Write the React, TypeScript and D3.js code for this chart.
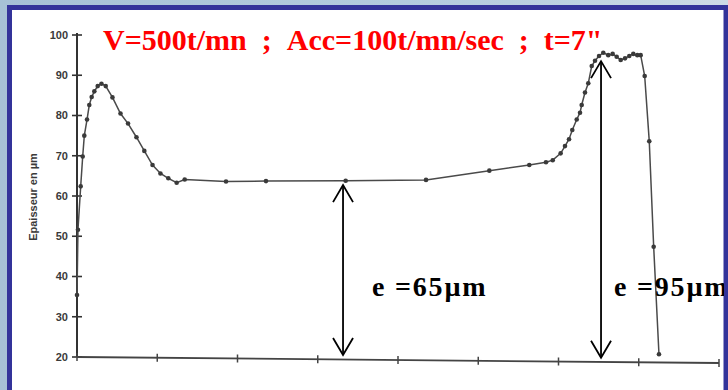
import React, { useEffect, useRef } from 'react';
import * as d3 from 'd3';

const W = 728;
const H = 390;

const TITLE = 'V=500t/mn\u00a0\u00a0;\u00a0\u00a0Acc=100t/mn/sec\u00a0\u00a0;\u00a0\u00a0t=7"';
const Y_LABEL = 'Epaisseur en µm';
const Y_TICKS = [20, 30, 40, 50, 60, 70, 80, 90, 100];
const X_TICKS = [0, 1, 2, 3, 4, 5, 6, 7, 8];

// position along the sheet (arbitrary units, 0..8) and measured thickness (µm)
const POS = [
  0.0, 0.012, 0.046, 0.071, 0.091, 0.125, 0.153, 0.183, 0.216, 0.258, 0.305, 0.358,
  0.442, 0.542, 0.636, 0.741, 0.839, 0.941, 1.04, 1.138, 1.242, 1.342, 1.857, 2.355,
  3.348, 4.349, 5.138, 5.636, 5.844, 5.928, 6.027, 6.081, 6.131, 6.172, 6.227, 6.268,
  6.289, 6.33, 6.371, 6.414, 6.455, 6.505, 6.558, 6.62, 6.675, 6.725, 6.775, 6.829,
  6.882, 6.932, 6.982, 7.024, 7.074, 7.131, 7.186, 7.252,
];
const THICK = [
  35.4, 51.6, 62.4, 69.8, 75.0, 79.0, 82.6, 84.6, 86.0, 87.3, 87.9, 87.3,
  84.5, 80.5, 78.0, 74.6, 71.2, 67.7, 65.6, 64.4, 63.3, 64.1, 63.6, 63.7,
  63.8, 64.0, 66.3, 67.7, 68.4, 68.9, 70.6, 72.4, 74.1, 76.4, 79.0, 80.7,
  82.6, 85.7, 88.0, 92.3, 93.6, 94.8, 95.6, 95.0, 95.3, 94.6, 93.8, 94.2,
  94.8, 95.3, 95.0, 95.0, 89.8, 73.6, 47.4, 20.7,
];

const ARROW_X = [3.315, 6.53];
const ARROW_TOP = [62.7, 93.5];
const ARROW_BOTTOM = [20.5, 19.8];
const ARROW_LABELS = ['e =65µm', 'e =95µm'];

export default function App() {
  const ref = useRef<SVGSVGElement | null>(null);

  useEffect(() => {
    const svg = d3.select(ref.current);
    svg.selectAll('*').remove();

    const x = d3.scaleLinear().domain([0, 8]).range([77, 719]);
    const y = d3.scaleLinear().domain([20, 100]).range([357, 35]);

    // background
    const defs = svg.append('defs');
    const grad = defs.append('linearGradient').attr('id', 'bg').attr('x1', 0).attr('x2', 1).attr('y1', 0).attr('y2', 0);
    grad.append('stop').attr('offset', 0).attr('stop-color', '#a6c1d6');
    grad.append('stop').attr('offset', 0.7).attr('stop-color', '#b8cfe0');
    grad.append('stop').attr('offset', 1).attr('stop-color', '#cddbe6');
    svg.append('rect').attr('width', W).attr('height', H).attr('fill', 'url(#bg)');
    svg.append('rect').attr('x', 9.5).attr('y', 7.5).attr('width', 716.5).attr('height', 400)
      .attr('fill', '#ffffff').attr('stroke', '#33339a').attr('stroke-width', 5);

    // y axis
    const gy = svg.append('g');
    gy.append('line').attr('x1', x(0)).attr('x2', x(0)).attr('y1', y(100) - 2).attr('y2', y(20))
      .attr('stroke', '#333').attr('stroke-width', 2);
    gy.selectAll('line.t').data(Y_TICKS).join('line').attr('class', 't')
      .attr('x1', x(0) - 5).attr('x2', x(0) + 5).attr('y1', (d) => y(d)).attr('y2', (d) => y(d))
      .attr('stroke', '#333').attr('stroke-width', 1.6);
    gy.selectAll('text').data(Y_TICKS).join('text')
      .attr('x', 68).attr('y', (d) => y(d)).attr('dy', '0.36em')
      .attr('text-anchor', 'end').attr('font-family', '"Liberation Sans", Arial, sans-serif')
      .attr('font-weight', 'bold').attr('font-size', 11).attr('fill', '#3a3a3a').text((d) => d);

    svg.append('text').attr('transform', `translate(37,197) rotate(-90)`)
      .attr('text-anchor', 'middle').attr('font-family', '"Liberation Sans", Arial, sans-serif')
      .attr('font-weight', 'bold').attr('font-size', 11).attr('fill', '#3a3a3a').text(Y_LABEL);

    // x axis (scan is slightly tilted)
    const skew = (Math.atan(6 / 642) * 180) / Math.PI;
    const gx = svg.append('g').attr('transform', `translate(${x(0)},${y(20)}) skewY(${skew}) translate(${-x(0)},0)`);
    gx.append('line').attr('x1', x(0)).attr('x2', x(8)).attr('y1', 0).attr('y2', 0)
      .attr('stroke', '#444').attr('stroke-width', 1.8);
    gx.selectAll('line.t').data(X_TICKS).join('line').attr('class', 't')
      .attr('x1', (d) => x(d)).attr('x2', (d) => x(d)).attr('y1', -4).attr('y2', 4)
      .attr('stroke', '#444').attr('stroke-width', 1.5);

    // data
    const pts = POS.map((p, i) => [p, THICK[i]] as [number, number]);
    svg.append('path').attr('d', d3.line<[number, number]>().x((d) => x(d[0])).y((d) => y(d[1]))(pts))
      .attr('fill', 'none').attr('stroke', '#4a4a4a').attr('stroke-width', 1.5);
    svg.selectAll('circle').data(pts).join('circle')
      .attr('cx', (d) => x(d[0])).attr('cy', (d) => y(d[1])).attr('r', 2.3).attr('fill', '#3a3a3a');

    // title
    svg.append('text').attr('x', 103).attr('y', 50)
      .attr('font-family', '"Liberation Serif", "Times New Roman", serif')
      .attr('font-weight', 'bold').attr('font-size', 30).attr('fill', '#ff0000').text(TITLE);

    // thickness arrows
    ARROW_X.forEach((ax, i) => {
      const px = x(ax);
      const top = y(ARROW_TOP[i]);
      const bot = y(ARROW_BOTTOM[i]);
      const g = svg.append('g').attr('stroke', '#000').attr('stroke-width', 1.8).attr('fill', 'none');
      g.append('line').attr('x1', px).attr('x2', px).attr('y1', top).attr('y2', bot);
      g.append('path').attr('d', `M${px - 10},${top + 17}L${px},${top}L${px + 10},${top + 17}`);
      g.append('path').attr('d', `M${px - 10},${bot - 17}L${px},${bot}L${px + 10},${bot - 17}`);
    });
    const labelDx = [29, 13];
    svg.selectAll('text.lab').data(ARROW_LABELS).join('text').attr('class', 'lab')
      .attr('x', (_d, i) => x(ARROW_X[i]) + labelDx[i]).attr('y', 296)
      .attr('font-family', '"Liberation Serif", "Times New Roman", serif')
      .attr('font-weight', 'bold').attr('font-size', 28).attr('letter-spacing', 1.8)
      .attr('fill', '#000').text((d) => d);

    // right border drawn over label overflow
    svg.append('rect').attr('x', 724).attr('y', 5).attr('width', 4).attr('height', H).attr('fill', '#33339a');
  }, []);

  return (
    <svg ref={ref} width={W} height={H} style={{ position: 'absolute', left: 0, top: 0, display: 'block' }} />
  );
}
